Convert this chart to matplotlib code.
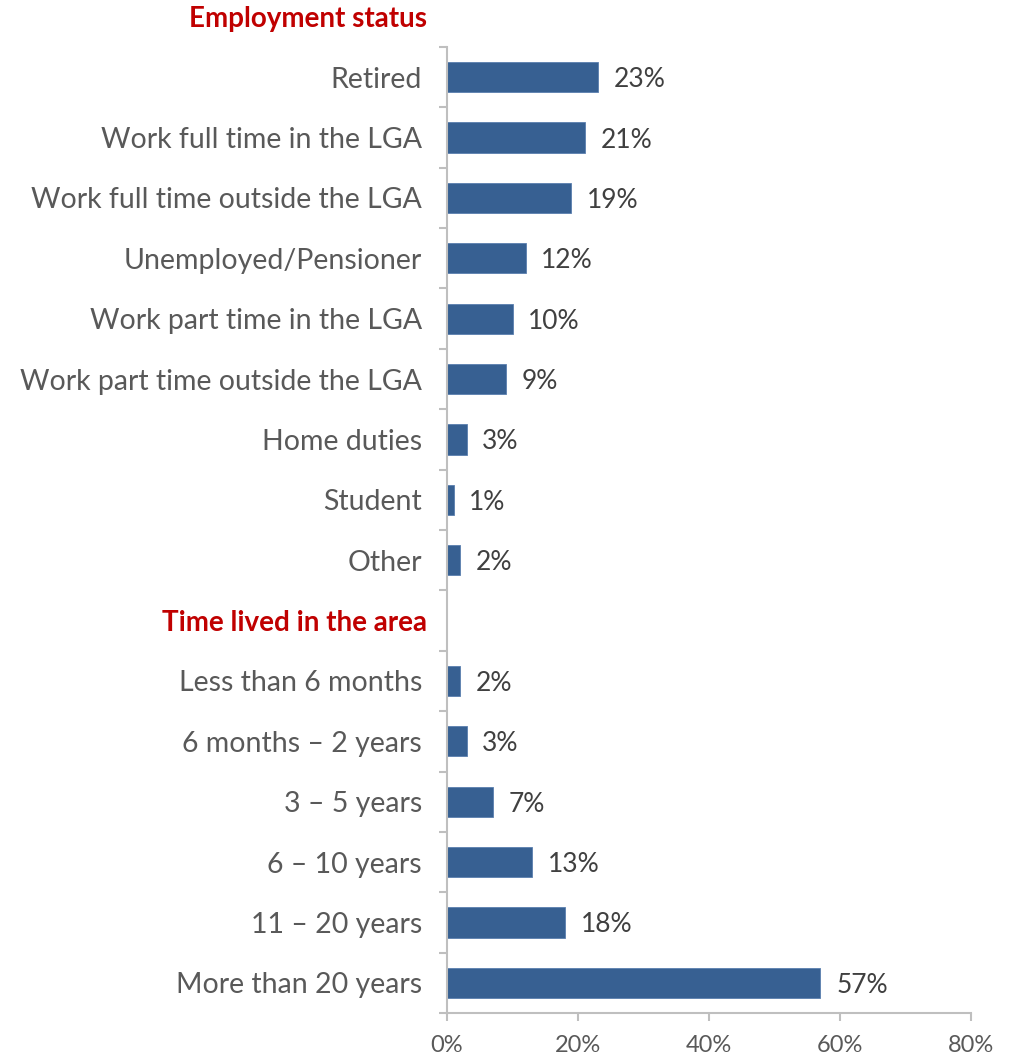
import matplotlib.pyplot as plt
import numpy as np

# survey profile
employment = ["Retired", "Work full time in the LGA", "Work full time outside the LGA",
              "Unemployed/Pensioner", "Work part time in the LGA",
              "Work part time outside the LGA", "Home duties", "Student", "Other"]
employment_pct = [23, 21, 19, 12, 10, 9, 3, 1, 2]

time_lived = ["Less than 6 months", "6 months \u2013 2 years", "3 \u2013 5 years",
              "6 \u2013 10 years", "11 \u2013 20 years", "More than 20 years"]
time_pct = [2, 3, 7, 13, 18, 57]

header1 = "Employment status"
header2 = "Time lived in the area"
xticks = [0, 20, 40, 60, 80]

BAR = "#376092"
GREY = "#595959"
RED = "#c00000"
AXIS = "#bfbfbf"
FONT = "Lato"

labels = employment + [""] + time_lived
values = employment_pct + [None] + time_pct
n = len(labels)
ypos = np.arange(n)

fig = plt.figure(figsize=(10.12, 10.58), dpi=100)
ax = fig.add_axes([0.4417, 0.0425, 0.5178, 0.9131])

for y, v in zip(ypos, values):
    if v is None:
        continue
    ax.barh(y, v, height=0.5, color=BAR, edgecolor="#5a7fae", linewidth=0.6)
    ax.text(v + 2.4, y, f"{v}%", va="center_baseline", ha="left", fontsize=19,
            color="#404040", family=FONT)

ax.set_xlim(0, 80)
ax.set_ylim(n - 0.5, -0.5)
ax.set_xticks(xticks)
ax.set_xticklabels([f"{t}%" for t in xticks], fontsize=17, color=GREY, family=FONT)
ax.set_yticks(ypos)
ax.set_yticklabels(labels, fontsize=20.5, color=GREY, family=FONT)
ax.tick_params(axis="y", length=0, pad=18)
ax.set_yticks(np.arange(-0.5, n, 1.0), minor=True)
ax.tick_params(axis="y", which="minor", length=6, color=AXIS, width=1.5)
ax.tick_params(axis="x", length=6, color=AXIS, width=1.5, pad=10)

for s in ["top", "right"]:
    ax.spines[s].set_visible(False)
for s in ["left", "bottom"]:
    ax.spines[s].set_color(AXIS)
    ax.spines[s].set_linewidth(1.5)

# section headings, one above the axes and one in the empty row
for heading, y in [(header1, -1), (header2, len(employment))]:
    ax.annotate(heading, xy=(0, y), xycoords=("axes fraction", "data"),
                xytext=(-20, 0), textcoords="offset pixels", ha="right",
                va="center_baseline", fontsize=20, fontweight="bold", color=RED,
                family=FONT, annotation_clip=False)

fig.savefig("out.png", dpi=100)
